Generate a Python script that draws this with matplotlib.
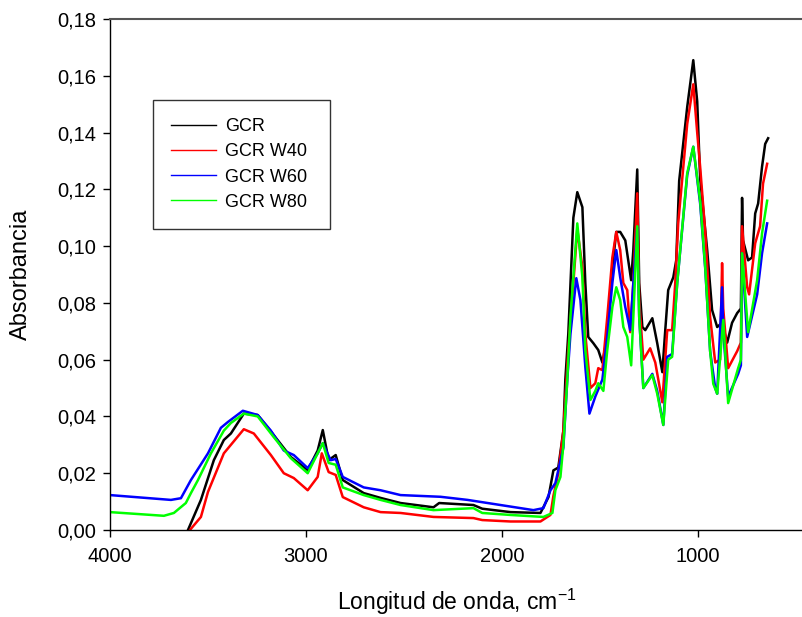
import matplotlib
matplotlib.use("Agg")
import matplotlib.pyplot as plt
from matplotlib.ticker import FuncFormatter

plt.rcParams['font.family'] = ['Liberation Sans', 'DejaVu Sans']
plt.rcParams['mathtext.default'] = 'regular'

labels = ["GCR", "GCR W40", "GCR W60", "GCR W80"]
colors = ["#000000", "#ff0000", "#0000ff", "#00ff00"]

wn_gcr = [3625, 3602, 3536, 3470, 3419, 3383, 3317, 3246, 3164, 3077, 2991, 2940, 2914, 2884,
          2848, 2812, 2705, 2619, 2517, 2349, 2320, 2145, 2100, 1956, 1803, 1762, 1737, 1712,
          1686, 1676, 1661, 1635, 1615, 1589, 1574, 1559, 1533, 1508, 1487, 1462, 1436, 1416,
          1396, 1370, 1355, 1340, 1329, 1309, 1299, 1283, 1268, 1232, 1207, 1181, 1166, 1151,
          1125, 1110, 1095, 1054, 1023, 1003, 988, 952, 927, 901, 876, 850, 825, 799, 780,
          774, 769, 743, 723, 707, 692, 672, 656, 641]
ab_gcr = [-0.004, 0.000, 0.0106, 0.0246, 0.0317, 0.034, 0.041, 0.0405, 0.0334, 0.0257, 0.0211,
          0.028, 0.0352, 0.0246, 0.0264, 0.0176, 0.013, 0.0113, 0.0095, 0.008, 0.0095, 0.0088,
          0.0075, 0.0063, 0.006, 0.0116, 0.021, 0.022, 0.035, 0.053, 0.069, 0.110, 0.119,
          0.1137, 0.087, 0.068, 0.0658, 0.0634, 0.059, 0.068, 0.0926, 0.105, 0.105, 0.102,
          0.095, 0.088, 0.0986, 0.127, 0.087, 0.0715, 0.0704, 0.0746, 0.0658, 0.0556, 0.0704,
          0.0845, 0.089, 0.095, 0.123, 0.149, 0.1655, 0.151, 0.124, 0.0986, 0.0775, 0.0715,
          0.073, 0.066, 0.073, 0.0764, 0.078, 0.117, 0.102, 0.095, 0.096, 0.1115, 0.115, 0.128,
          0.136, 0.138]

wn_w40 = [3600, 3592, 3536, 3500, 3419, 3383, 3317, 3266, 3179, 3113, 3062, 2991, 2940, 2919,
          2884, 2848, 2812, 2705, 2619, 2517, 2349, 2145, 2100, 1956, 1803, 1752, 1737, 1712,
          1686, 1661, 1635, 1615, 1589, 1574, 1548, 1523, 1508, 1487, 1462, 1436, 1416, 1396,
          1380, 1360, 1345, 1329, 1309, 1299, 1278, 1243, 1217, 1181, 1156, 1131, 1115, 1100,
          1054, 1023, 1003, 988, 962, 937, 911, 886, 876, 870, 845, 799, 780, 774, 748, 738,
          707, 682, 667, 646]
ab_w40 = [-0.002, 0.000, 0.0046, 0.0134, 0.027, 0.030, 0.0355, 0.034, 0.0264, 0.020, 0.0183,
          0.014, 0.0187, 0.027, 0.0204, 0.0194, 0.0116, 0.008, 0.0063, 0.006, 0.0046, 0.0042,
          0.0035, 0.003, 0.003, 0.0053, 0.012, 0.020, 0.035, 0.0634, 0.087, 0.106, 0.0926,
          0.069, 0.050, 0.0517, 0.057, 0.0563, 0.075, 0.096, 0.105, 0.0986, 0.087, 0.0845,
          0.0697, 0.087, 0.1186, 0.081, 0.060, 0.064, 0.059, 0.045, 0.0704, 0.0704, 0.087,
          0.108, 0.143, 0.157, 0.140, 0.128, 0.105, 0.075, 0.059, 0.060, 0.094, 0.078, 0.057,
          0.063, 0.066, 0.107, 0.0855, 0.083, 0.101, 0.107, 0.122, 0.129]

wn_w60 = [4000, 3689, 3638, 3587, 3500, 3434, 3399, 3322, 3246, 3179, 3113, 3062, 2991, 2940,
          2914, 2874, 2848, 2812, 2705, 2619, 2517, 2313, 2175, 2007, 1839, 1788, 1752, 1727,
          1686, 1666, 1650, 1620, 1599, 1574, 1553, 1523, 1487, 1462, 1436, 1416, 1396, 1370,
          1345, 1329, 1309, 1299, 1278, 1232, 1207, 1176, 1156, 1131, 1105, 1054, 1023, 988,
          962, 937, 911, 901, 876, 870, 845, 794, 780, 774, 748, 697, 672, 646]
ab_w60 = [0.0123, 0.0106, 0.0112, 0.0176, 0.027, 0.036, 0.038, 0.042, 0.0405, 0.035, 0.028,
          0.0264, 0.0218, 0.027, 0.0306, 0.0246, 0.025, 0.0187, 0.015, 0.014, 0.0123, 0.0117,
          0.0106, 0.0088, 0.007, 0.0077, 0.014, 0.0165, 0.029, 0.053, 0.069, 0.0887, 0.081,
          0.0574, 0.041, 0.047, 0.053, 0.068, 0.087, 0.0986, 0.089, 0.0785, 0.0704, 0.087,
          0.1067, 0.075, 0.050, 0.055, 0.049, 0.037, 0.061, 0.062, 0.087, 0.125, 0.135, 0.115,
          0.092, 0.063, 0.050, 0.048, 0.0855, 0.070, 0.047, 0.055, 0.058, 0.0975, 0.068, 0.083,
          0.0975, 0.108]

wn_w80 = [4000, 3725, 3674, 3613, 3587, 3551, 3485, 3419, 3383, 3317, 3246, 3164, 3077, 2991,
          2914, 2884, 2848, 2812, 2705, 2619, 2517, 2349, 2145, 2100, 1956, 1788, 1742, 1727,
          1701, 1686, 1666, 1650, 1615, 1589, 1574, 1548, 1523, 1508, 1482, 1462, 1436, 1416,
          1396, 1380, 1360, 1340, 1329, 1309, 1299, 1278, 1232, 1207, 1176, 1151, 1131, 1105,
          1054, 1023, 988, 962, 937, 921, 901, 870, 845, 794, 780, 774, 743, 697, 672, 646]
ab_w80 = [0.0063, 0.005, 0.006, 0.0095, 0.013, 0.0176, 0.027, 0.035, 0.0377, 0.041, 0.040,
          0.0327, 0.0253, 0.020, 0.0306, 0.0236, 0.023, 0.015, 0.0123, 0.0106, 0.0088, 0.007,
          0.0077, 0.006, 0.0053, 0.0046, 0.006, 0.014, 0.0187, 0.030, 0.053, 0.075, 0.108,
          0.089, 0.0634, 0.0458, 0.049, 0.0517, 0.049, 0.0634, 0.0785, 0.0855, 0.081, 0.0715,
          0.068, 0.058, 0.075, 0.107, 0.075, 0.050, 0.0546, 0.048, 0.037, 0.060, 0.061, 0.087,
          0.1257, 0.135, 0.116, 0.0926, 0.063, 0.0515, 0.048, 0.074, 0.0447, 0.057, 0.060,
          0.0975, 0.0697, 0.088, 0.1045, 0.116]

y_ticks = [0.00, 0.02, 0.04, 0.06, 0.08, 0.10, 0.12, 0.14, 0.16, 0.18]
x_ticks = [4000, 3000, 2000, 1000]

series = [(wn_gcr, ab_gcr), (wn_w40, ab_w40), (wn_w60, ab_w60), (wn_w80, ab_w80)]

fig = plt.figure(figsize=(8.03, 6.17), dpi=100)
ax = fig.add_axes([110 / 803, 1 - 530 / 617, 1 - 110 / 803, (530 - 19) / 617])

for (x, y), c, lab in zip(series, colors, labels):
    ax.plot(x, y, color=c, lw=1.8, label=lab, solid_joinstyle='round')

ax.set_xlim(4000, 463)
ax.set_ylim(0, 0.18)
ax.set_yticks(y_ticks)
ax.set_xticks(x_ticks)
ax.yaxis.set_major_formatter(FuncFormatter(lambda v, p: f"{v:.2f}".replace(".", ",")))
ax.tick_params(direction='out', length=5, width=1, labelsize=14.5, colors='black')
ax.tick_params(axis='x', pad=7)
ax.tick_params(axis='y', pad=5)

ax.spines['right'].set_visible(False)
ax.spines['top'].set_color('#555555')
ax.spines['top'].set_linewidth(1.5)
for s in ['left', 'bottom']:
    ax.spines[s].set_linewidth(1.0)
    ax.spines[s].set_color('black')

ax.set_ylabel("Absorbancia", fontsize=17)
ax.set_xlabel("Longitud de onda, cm$^{-1}$", fontsize=16.5)
ax.yaxis.set_label_coords(-0.112, 0.5)
ax.xaxis.set_label_coords(0.5, -0.112)

leg = ax.legend(loc='upper left', bbox_to_anchor=(0.062, 0.591, 0.2554, 0.25),
                mode='expand', frameon=True, fancybox=False, edgecolor='black',
                fontsize=13, handlelength=2.5, handletextpad=0.5, labelspacing=0.45,
                borderpad=1.0, borderaxespad=0)
leg.get_frame().set_linewidth(1.0)
for l in leg.get_lines():
    l.set_linewidth(1.0)

fig.savefig("out.png", dpi=100)
